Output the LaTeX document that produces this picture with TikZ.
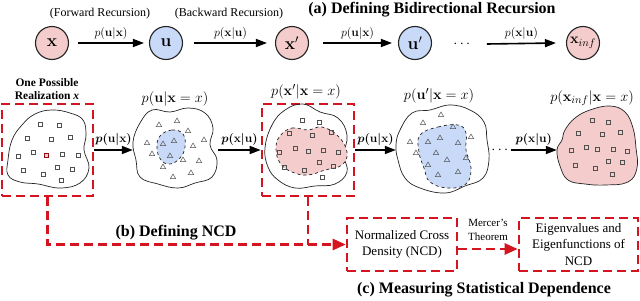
\documentclass[tikz,border=0pt]{standalone}
\usepackage[no-math]{fontspec}
\setmainfont{Liberation Serif}
\usepackage{amsmath}
\usetikzlibrary{arrows.meta,shapes.geometric,calc}
\definecolor{pinkf}{RGB}{244,204,204}
\definecolor{bluef}{RGB}{201,218,248}
\definecolor{redd}{RGB}{212,20,30}
\definecolor{edge}{RGB}{35,35,35}
\definecolor{mark}{RGB}{80,80,80}
\begin{document}
\begin{tikzpicture}[x=1pt,y=-1pt,
  var/.style={circle,draw=edge,line width=1.1pt,minimum size=33pt,inner sep=0pt,font=\fontsize{18}{18}\selectfont},
  arr/.style={line width=1.6pt,-{Triangle[length=11pt,width=8pt]}},
  toplab/.style={font=\fontsize{12}{14}\selectfont,inner sep=1pt},
  midlab/.style={font=\fontsize{12.5}{14}\selectfont\boldmath,inner sep=1pt},
  distlab/.style={font=\fontsize{15}{18}\selectfont,inner sep=1pt},
  title/.style={font=\bfseries\fontsize{16}{18}\selectfont,inner sep=1pt},
  rdash/.style={draw=redd,line width=2.6pt,dash pattern=on 9pt off 5pt},
  rarr/.style={rdash,-{Triangle[length=13pt,width=11pt]}},
  rbox/.style={rdash,align=center,inner sep=2pt},
  blob/.style={draw=edge,line width=0.7pt},
  inner/.style={draw=edge,line width=0.7pt,dashed},
  sq/.style={draw=mark,line width=0.5pt,minimum size=4.2pt,inner sep=0pt},
  tri/.style={regular polygon,regular polygon sides=3,draw=mark,line width=0.5pt,minimum size=6pt,inner sep=0pt},
  hold/.style={inner sep=0pt,minimum height=10pt}
]
\useasboundingbox (0,0) rectangle (640,300);

% ---------- (a) top row ----------
\node[title] (ta) at (432,10) {(a) Defining Bidirectional Recursion};
\node[toplab] (fwd) at (100,14) {(Forward Recursion)};
\node[toplab] (bwd) at (229,14) {(Backward Recursion)};

\node[var,fill=pinkf] (x) at (52,43) {$\mathbf{x}$};
\node[var,fill=bluef] (u) at (166,43) {$\mathbf{u}$};
\node[var,fill=pinkf] (xp) at (292,43) {$\mathbf{x}'$};
\node[var,fill=bluef] (up) at (415,43) {$\mathbf{u}'$};
\node[font=\fontsize{14}{14}\selectfont,inner sep=0pt] (dt) at (463,44) {$\cdots$};
\node[var,fill=pinkf,font=\fontsize{15}{15}\selectfont] (xi) at (583,43) {$\mathbf{x}_{inf}$};

\draw[arr] ([xshift=9pt]x.east) -- node[toplab,above=2pt] {$p(\mathbf{u}|\mathbf{x})$} ([xshift=-5pt]u.west);
\draw[arr] ([xshift=11pt]u.east) -- node[toplab,above=2pt] {$p(\mathbf{x}|\mathbf{u})$} ([xshift=-8pt]xp.west);
\draw[arr] ([xshift=14pt]xp.east) -- node[toplab,above=2pt] {$p(\mathbf{u}|\mathbf{x})$} ([xshift=-6pt]up.west);
\draw[arr] ([xshift=14pt]dt.east) -- node[toplab,above=2pt] {$p(\mathbf{x}|\mathbf{u})$} ([xshift=-10pt]xi.west);

% ---------- middle row ----------
% realization x
\node[font=\bfseries\fontsize{11.5}{13.5}\selectfont,align=center] (real) at (47,89) {One Possible\\Realization \textit{x}};
\node[rbox,minimum width=91pt,minimum height=92pt] (box1) at (47.5,150) {};
\draw[blob] plot[smooth cycle,tension=0.7] coordinates {(8,160) (12,140) (22,125) (35,114) (52,110) (70,113) (83,120) (86,135) (84,150) (89,168) (80,183) (60,188) (38,184) (20,182) (8,175)};
\foreach \p in {(40,124),(59,125),(27,138),(51,139),(70,137),(33,152),(62,154),(18,156),(78,155),(23,170),(43,174),(57,167),(72,169),(61,180)}
  \node[sq] at \p {};
\node[sq,fill=pinkf,draw=redd!70!black] at (46,155) {};

% p(u|x=x)
\node[distlab] (l2) at (175,99) {$p(\mathbf{u}|\mathbf{x}=x)$};
\node[hold,minimum width=85pt] (B2) at (175.5,150) {};
\draw[blob] plot[smooth cycle,tension=0.7] coordinates {(140,123) (152,110) (170,112) (188,108) (205,113) (213,128) (210,145) (217,160) (212,177) (195,183) (178,188) (158,184) (140,177) (136,160) (133,142)};
\draw[inner,fill=bluef] plot[smooth cycle,tension=0.7] coordinates {(160,136) (172,130) (183,134) (185,147) (180,158) (170,164) (161,160) (157,148)};
\foreach \p in {(159,125),(177,121),(188,131),(147,143),(163,144),(174,141),(193,146),(204,140),(152,154),(170,156),(183,160),(199,161),(163,167),(191,173),(173,177)}
  \node[tri] at \p {};

% p(x'|x=x)
\node[distlab] (l3) at (306,92) {$p(\mathbf{x}'|\mathbf{x}=x)$};
\node[rbox,minimum width=92pt,minimum height=92pt] (box2) at (308,150) {};
\draw[blob] plot[smooth cycle,tension=0.7] coordinates {(272,125) (285,110) (303,104) (320,112) (338,118) (347,135) (344,155) (347,172) (335,184) (315,186) (295,188) (278,180) (268,167) (265,148)};
\draw[inner,fill=pinkf] plot[smooth cycle,tension=0.7] coordinates {(280,136) (292,128) (308,130) (322,127) (338,136) (347,152) (342,165) (325,170) (308,175) (292,172) (280,163) (276,148)};
\foreach \p in {(302,120),(319,122),(331,132),(289,133),(312,135),(279,152),(295,148),(308,151),(323,150),(338,152),(284,167),(304,170),(319,162),(333,166),(322,177)}
  \node[sq] at \p {};

% p(u'|x=x)
\node[distlab] (l4) at (439,96) {$p(\mathbf{u}'|\mathbf{x}=x)$};
\node[hold,minimum width=93pt] (B4) at (442.5,150) {};
\draw[blob] plot[smooth cycle,tension=0.7] coordinates {(400,130) (412,113) (430,110) (450,105) (470,110) (484,122) (487,140) (489,160) (483,178) (465,186) (445,193) (420,188) (405,178) (398,160) (396,145)};
\draw[inner,fill=bluef] plot[smooth cycle,tension=0.7] coordinates {(420,135) (438,127) (458,125) (466,133) (466,150) (471,168) (466,184) (448,188) (430,182) (424,168) (419,152)};
\foreach \p in {(441,115),(423,123),(453,127),(410,142),(428,142),(440,138),(458,143),(471,137),(416,153),(436,153),(466,158),(428,165),(447,160),(438,175),(458,172)}
  \node[tri] at \p {};
\node[font=\fontsize{14}{14}\selectfont,inner sep=0pt] (dm) at (501,150) {$\cdots$};

% p(x_inf|x=x)
\node[distlab] (l5) at (592,98) {$p(\mathbf{x}_{inf}|\mathbf{x}=x)$};
\node[hold,minimum width=80pt] (B5) at (597,150) {};
\draw[blob,fill=pinkf] plot[smooth cycle,tension=0.7] coordinates {(565,130) (575,118) (590,110) (610,106) (625,112) (633,128) (636,148) (637,168) (628,182) (605,185) (585,184) (568,180) (560,166) (557,150) (562,140)};
\foreach \p in {(592,120),(608,122),(578,133),(602,134),(620,132),(571,150),(586,147),(597,149),(613,149),(627,151),(575,165),(595,168),(608,161),(622,162),(612,174)}
  \node[sq] at \p {};

% middle arrows
\draw[arr] (box1.east) -- node[midlab,above=3pt] {$p(\mathbf{u}|\mathbf{x})$} (box1.east -| B2.west);
\draw[arr] (B2.east) -- node[midlab,above=3pt] {$p(\mathbf{x}|\mathbf{u})$} (B2.east -| box2.west);
\draw[arr] (box2.east) -- node[midlab,above=3pt] {$p(\mathbf{u}|\mathbf{x})$} (box2.east -| B4.west);
\draw[arr] (dm.east) -- node[midlab,above=3pt] {$p(\mathbf{x}|\mathbf{u})$} (dm.east -| B5.west);

% ---------- (b) and (c) ----------
\node[rbox,minimum width=110pt,minimum height=53pt,font=\fontsize{13}{16.5}\selectfont] (ncd) at (402,244.5) {Normalized Cross\\Density (NCD)};
\node[rbox,minimum width=119pt,minimum height=53pt,font=\fontsize{13}{16.5}\selectfont] (eig) at (578.5,244.5) {Eigenvalues and\\Eigenfunctions of\\NCD};
\node[font=\fontsize{11}{14}\selectfont,align=center,inner sep=0pt] (mer) at (488,230) {Mercer's\\Theorem};
\draw[rarr] ([yshift=-4.5pt]ncd.east) -- ([yshift=-4.5pt]eig.west);

\draw[rarr] (box1.south) |- (ncd.west);
\draw[rdash] (box2.south) -- (box2.south |- ncd.west);
\node[title] (tb) at (176,233) {(b) Defining NCD};
\node[title] (tc) at (484,290) {(c) Measuring Statistical Dependence};
\end{tikzpicture}
\end{document}
